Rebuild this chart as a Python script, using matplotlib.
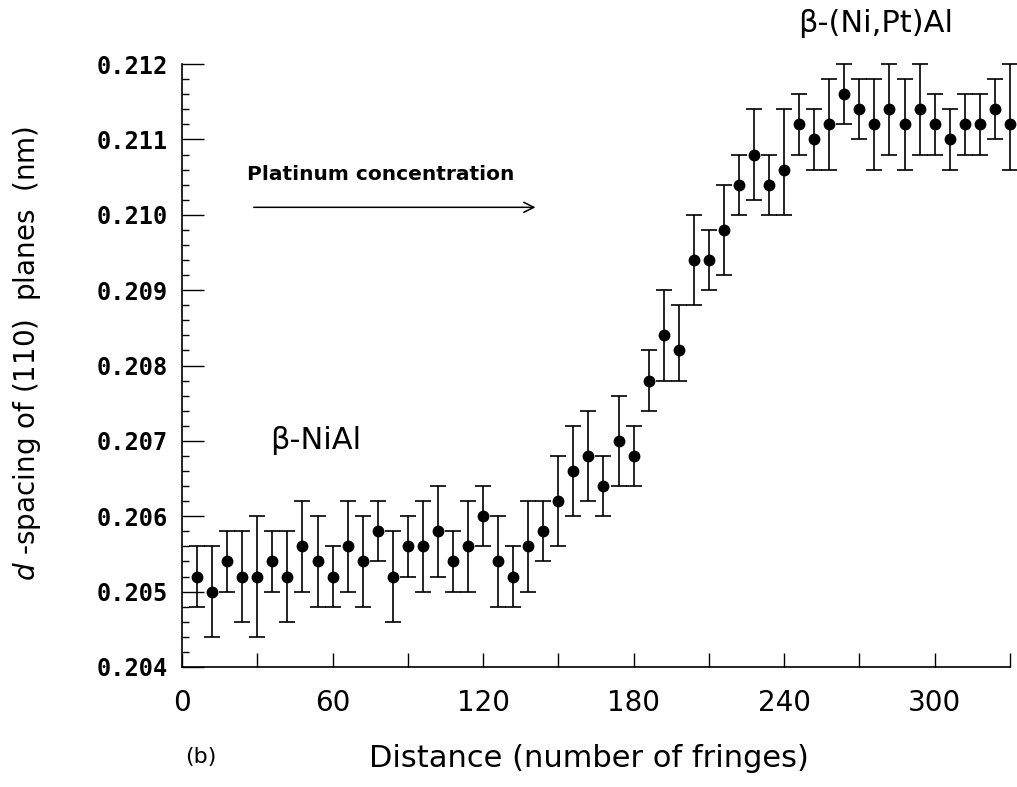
import matplotlib.pyplot as plt
from matplotlib.ticker import MultipleLocator, FormatStrFormatter

# distance along the line (number of fringes)
distance = [6, 12, 18, 24, 30, 36, 42, 48, 54, 60, 66, 72, 78, 84, 90,
            96, 102, 108, 114, 120, 126, 132, 138, 144, 150, 156, 162, 168,
            174, 180, 186, 192, 198, 204, 210, 216, 222, 228, 234, 240, 246,
            252, 258, 264, 270, 276, 282, 288, 294, 300, 306, 312, 318, 324,
            330]

# d-spacing of (110) planes, nm
dspacing = [0.2052, 0.2050, 0.2054, 0.2052, 0.2052, 0.2054, 0.2052, 0.2056,
            0.2054, 0.2052, 0.2056, 0.2054, 0.2058, 0.2052, 0.2056, 0.2056,
            0.2058, 0.2054, 0.2056, 0.2060, 0.2054, 0.2052, 0.2056, 0.2058,
            0.2062, 0.2066, 0.2068, 0.2064, 0.2070, 0.2068, 0.2078, 0.2084,
            0.2082, 0.2094, 0.2094, 0.2098, 0.2104, 0.2108, 0.2104, 0.2106,
            0.2112, 0.2110, 0.2112, 0.2116, 0.2114, 0.2112, 0.2114, 0.2112,
            0.2114, 0.2112, 0.2110, 0.2112, 0.2112, 0.2114, 0.2112]

# error bars (below / above)
err_lo = [0.0004, 0.0006, 0.0004, 0.0006, 0.0008, 0.0004, 0.0006, 0.0006,
          0.0006, 0.0004, 0.0006, 0.0006, 0.0004, 0.0006, 0.0004, 0.0006,
          0.0006, 0.0004, 0.0006, 0.0004, 0.0006, 0.0004, 0.0006, 0.0004,
          0.0006, 0.0006, 0.0006, 0.0004, 0.0006, 0.0004, 0.0004, 0.0006,
          0.0004, 0.0006, 0.0004, 0.0006, 0.0004, 0.0006, 0.0004, 0.0006,
          0.0004, 0.0004, 0.0006, 0.0004, 0.0004, 0.0006, 0.0006, 0.0006,
          0.0006, 0.0004, 0.0004, 0.0004, 0.0004, 0.0004, 0.0006]
err_hi = [0.0004, 0.0006, 0.0004, 0.0006, 0.0008, 0.0004, 0.0006, 0.0006,
          0.0006, 0.0004, 0.0006, 0.0006, 0.0004, 0.0006, 0.0004, 0.0006,
          0.0006, 0.0004, 0.0006, 0.0004, 0.0006, 0.0004, 0.0006, 0.0004,
          0.0006, 0.0006, 0.0006, 0.0004, 0.0006, 0.0004, 0.0004, 0.0006,
          0.0006, 0.0006, 0.0004, 0.0006, 0.0004, 0.0006, 0.0004, 0.0008,
          0.0004, 0.0004, 0.0006, 0.0004, 0.0004, 0.0006, 0.0006, 0.0006,
          0.0006, 0.0004, 0.0004, 0.0004, 0.0004, 0.0004, 0.0008]

fig = plt.figure(figsize=(10.17, 7.87), dpi=100)
ax = fig.add_axes([0.179, 0.1525, 0.814, 0.766])

line, caps, bars = ax.errorbar(distance, dspacing, yerr=[err_lo, err_hi],
                               fmt='o', color='black', markersize=7.5,
                               elinewidth=1.2, capsize=5.5, capthick=1.2)
line.set_clip_on(False)
for art in list(caps) + list(bars):
    art.set_clip_on(False)

ax.set_xlim(0, 330)
ax.set_ylim(0.204, 0.212)

ax.spines['top'].set_visible(False)
ax.spines['right'].set_visible(False)
ax.spines['left'].set_linewidth(1.2)
ax.spines['bottom'].set_linewidth(1.2)

ax.xaxis.set_major_locator(MultipleLocator(60))
ax.xaxis.set_minor_locator(MultipleLocator(30))
ax.yaxis.set_major_locator(MultipleLocator(0.001))
ax.yaxis.set_minor_locator(MultipleLocator(0.0002))
ax.yaxis.set_major_formatter(FormatStrFormatter('%.3f'))

ax.tick_params(axis='x', which='both', direction='in', length=10, width=1.0,
               pad=16)
ax.tick_params(axis='y', which='major', direction='in', length=16, width=1.0,
               pad=10)
ax.tick_params(axis='y', which='minor', direction='in', length=5, width=1.0)

for lab in ax.get_xticklabels():
    lab.set_fontsize(20)
for lab in ax.get_yticklabels():
    lab.set_family('DejaVu Sans Mono')
    lab.set_fontsize(17)
    lab.set_fontweight('bold')

ax.set_xlabel('Distance (number of fringes)', fontsize=22)
ax.xaxis.set_label_coords(0.4915, -0.127)
ax.set_ylabel(r'$d$ -spacing of (110)  planes  (nm)', fontsize=20)
ax.yaxis.set_label_coords(-0.168, 0.52)

ax.text(35, 0.2070, u'\u03b2-NiAl', fontsize=22, ha='left', va='center')
ax.text(245.5, 0.21254, u'\u03b2-(Ni,Pt)Al', fontsize=22, ha='left',
        va='center', clip_on=False)
ax.text(26, 0.21053, 'Platinum concentration', fontsize=14.5,
        fontweight='bold', ha='left', va='center')
ax.annotate('', xy=(142, 0.2101), xytext=(27.5, 0.2101),
            arrowprops=dict(arrowstyle='->', color='black', lw=1.1,
                            mutation_scale=18))

fig.text(0.182, 0.038, '(b)', fontsize=16, ha='left', va='center')

fig.savefig('out.png', dpi=100)
